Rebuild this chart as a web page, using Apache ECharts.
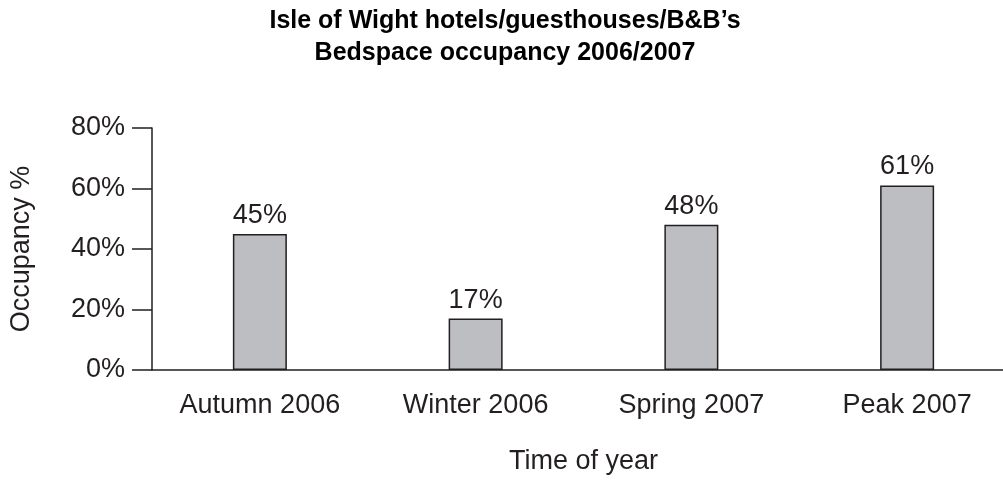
<!DOCTYPE html>
<html>
<head>
<meta charset="utf-8">
<script src="https://cdn.jsdelivr.net/npm/echarts@6/dist/echarts.min.js"></script>
<style>
  html, body { margin: 0; padding: 0; background: #fff; overflow: hidden; }
  /* a bit wider than the window: the last category runs past the right edge */
  #main { width: 1030px; height: 481px; }
</style>
</head>
<body>
<div id="main"></div>
<script>
// data
const categories = ["Autumn 2006", "Winter 2006", "Spring 2007", "Peak 2007"];
const occupancy = [45, 17, 48, 61];
const yTicks = [0, 20, 40, 60, 80];

const ink = "#231f20";
const font = "'Liberation Sans', Arial, Helvetica, sans-serif";

const chart = echarts.init(document.getElementById("main"));

const option = {
  animation: false,
  textStyle: { fontFamily: font, color: ink },
  title: {
    text: "Isle of Wight hotels/guesthouses/B&B\u2019s\nBedspace occupancy 2006/2007",
    left: 500,
    textAlign: "center",
    top: 0,
    textStyle: { fontFamily: font, fontSize: 25, fontWeight: "bold", color: "#000", lineHeight: 32 }
  },
  grid: { left: 152, right: 15, top: 128, bottom: 111, containLabel: false },
  xAxis: {
    type: "category",
    data: categories,
    name: "Time of year",
    nameLocation: "middle",
    nameGap: 78,
    nameTextStyle: { fontSize: 27, color: ink, fontFamily: font },
    axisLine: { lineStyle: { color: ink, width: 1.5 } },
    axisTick: { length: 18, lineStyle: { color: ink, width: 1.5 } },
    axisLabel: { fontSize: 27, color: ink, margin: 22, fontFamily: font }
  },
  yAxis: {
    type: "value",
    min: yTicks[0],
    max: yTicks[yTicks.length - 1],
    interval: yTicks[1] - yTicks[0],
    name: "Occupancy %",
    nameLocation: "middle",
    nameGap: 117,
    nameTextStyle: { fontSize: 27, color: ink, fontFamily: font },
    axisLine: { show: true, lineStyle: { color: ink, width: 1.5 } },
    axisTick: { show: true, length: 20, lineStyle: { color: ink, width: 1.5 } },
    axisLabel: { fontSize: 27, color: ink, margin: 27, formatter: "{value}%", fontFamily: font },
    splitLine: { show: false }
  },
  series: [
    {
      type: "bar",
      data: occupancy,
      barWidth: 54,
      itemStyle: { color: "#bdbec2", borderColor: ink, borderWidth: 1.5 },
      label: {
        show: true,
        position: "top",
        distance: 5,
        formatter: "{c}%",
        fontSize: 27,
        color: ink,
        fontFamily: font
      }
    }
  ]
};

chart.setOption(option);
</script>
</body>
</html>
